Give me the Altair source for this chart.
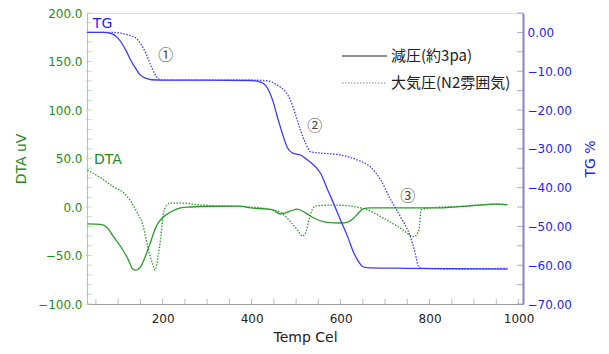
import altair as alt
import pandas as pd

# ---------------- data ----------------
tg_vac_T = [31, 67, 85, 99, 117, 128, 139, 150, 162, 175, 200, 300, 400, 420, 431, 447, 458, 469, 481,
            492, 510, 526, 544, 555, 571, 584, 600, 616, 630, 641, 650, 665, 750, 850, 975]
tg_vac_v = [0.0, 0.0, -0.3, -1.4, -4.5, -7.1, -9.2, -11.0, -11.8, -12.2, -12.3, -12.3, -12.4, -12.8, -13.6,
            -17.4, -21.8, -26.0, -29.8, -31.1, -31.6, -32.9, -34.7, -36.3, -40.6, -44.0, -48.4, -52.7,
            -56.9, -59.2, -60.4, -60.7, -60.8, -60.9, -61.0]

tg_atm_T = [31, 83, 106, 124, 139, 150, 162, 173, 184, 191, 200, 300, 400, 436, 458, 476, 487, 499, 510,
            521, 533, 555, 600, 638, 667, 690, 712, 735, 757, 768, 775, 782, 850, 975]
tg_atm_v = [0.0, 0.0, -0.2, -0.7, -1.4, -2.8, -5.3, -8.4, -11.0, -12.0, -12.3, -12.3, -12.3, -12.5,
            -13.6, -15.3, -17.4, -21.3, -25.2, -28.5, -30.8, -31.1, -31.6, -32.9, -34.7, -38.0, -43.0,
            -47.6, -52.7, -57.0, -60.3, -60.8, -61.0, -60.8]

dta_vac_T = [31, 61, 76, 90, 106, 121, 133, 140, 150, 164, 173, 184, 195, 218, 240, 263, 285, 375, 398,
             431, 447, 465, 476, 488, 503, 521, 540, 566, 600, 616, 630, 641, 650, 667, 809, 885, 953, 975]
dta_vac_v = [-17.5, -18.0, -21.6, -30.9, -41.0, -52.6, -63.9, -65.0, -61.9, -47.4, -36.0, -21.6, -13.4,
             -5.2, -1.0, 0.0, 0.5, 1.0, -1.0, -2.0, -3.0, -7.2, -6.0, -4.1, -2.1, -6.0, -11.3, -15.5,
             -16.5, -15.5, -11.3, -6.0, -2.0, -1.0, -1.0, 1.0, 3.0, 2.5]

dta_atm_T = [31, 61, 90, 113, 128, 143, 155, 162, 168, 177, 183, 190, 196, 202, 210, 218, 247, 285, 382,
             436, 465, 487, 503, 514, 521, 529, 536, 544, 584, 622, 660, 697, 735, 765, 776, 781, 800,
             885, 953, 975]
dta_atm_v = [38.0, 30.0, 20.6, 14.4, 6.0, -6.0, -18.0, -31.0, -44.0, -58.0, -65.0, -50.0, -31.0, -6.2,
             2.0, 4.0, 4.0, 2.0, 0.3, -2.0, -5.6, -15.0, -23.7, -30.0, -27.0, -13.4, -3.0, 1.0, 2.0,
             1.0, -3.0, -11.6, -22.0, -30.6, -23.7, -3.0, -1.0, 1.0, 3.0, 2.0]

legend_labels = ["減圧(約3pa)", "大気圧(N2雰囲気)"]

# annotation texts placed in data coordinates
dta_note_text, dta_note_T, dta_note_v = ["DTA"], [77], [48.5]
tg_note_text, tg_note_T, tg_note_v = ["TG"], [65], [2.2]
step_text = ["①", "②", "③"]
step_T = [207, 542, 751]
step_v = [-5.8, -24.1, -42.2]

x_labels = [200, 400, 600, 800, 1000]
dta_labels = [-100, -50, 0, 50, 100, 150, 200]
tg_labels = [-70, -60, -50, -40, -30, -20, -10, 0]
x_minor = list(range(50, 1001, 50))
dta_minor = list(range(-100, 201, 10))
tg_minor = list(range(-70, 6, 5))

# ---------------- styling ----------------
W, H = 436, 291
GREEN = "#2b9a2b"
GREEN_TXT = "#1e8c1e"
GREEN_AX = "#9fd49f"
BLUE = "#3a3aff"
BLUE_TXT = "#1f1ff0"
BLUE_AX = "#8585cc"
GREY = "#a0a0a0"
FONT = "DejaVu Sans"
CJK = "Noto Sans CJK JP"

xscale = alt.Scale(domain=[30, 1010], nice=False, zero=False)
xaxis = alt.Axis(values=x_labels, format="d", ticks=False, grid=False, labelPadding=9,
                 labelFont=FONT, labelFontSize=12, labelColor="#222222",
                 titleFont=FONT, titleFontSize=14, titleColor="#222222", titleFontWeight="normal",
                 titlePadding=6, domainColor=GREY)

dscale = alt.Scale(domain=[-100, 200], nice=False, zero=False)
daxis = alt.Axis(orient="left", values=dta_labels, format=".1f", ticks=False, grid=False,
                 labelPadding=5, labelFont=FONT, labelFontSize=12, labelColor=GREEN_TXT,
                 title="DTA uV", titleFont=FONT, titleFontSize=14, titleColor=GREEN_TXT,
                 titleFontWeight="normal", titlePadding=9, domainColor=GREEN_AX)

tscale = alt.Scale(domain=[-70, 5], nice=False, zero=False)
taxis = alt.Axis(orient="right", values=tg_labels, format=".2f", ticks=False, grid=False,
                 labelPadding=4, labelFont=FONT, labelFontSize=12, labelColor=BLUE_TXT,
                 title="TG %", titleFont=FONT, titleFontSize=14, titleColor=BLUE_TXT,
                 titleFontWeight="normal", titleAngle=270, titleBaseline="top", titlePadding=12,
                 domainColor=BLUE_AX, domainWidth=2)


def X():
    return alt.X("T:Q", scale=xscale, axis=xaxis, title="Temp Cel")


def YD():
    return alt.Y("v:Q", scale=dscale, axis=daxis)


def YT():
    return alt.Y("v:Q", scale=tscale, axis=taxis)


# ---------------- DTA group (left axis) ----------------
dta_vac = alt.Chart(pd.DataFrame({"T": dta_vac_T, "v": dta_vac_v})).mark_line(
    color=GREEN, strokeWidth=1.3, interpolate="monotone").encode(x=X(), y=YD())
dta_atm = alt.Chart(pd.DataFrame({"T": dta_atm_T, "v": dta_atm_v})).mark_line(
    color=GREEN, strokeWidth=1.3, strokeDash=[1.5, 1.5], interpolate="monotone").encode(x=X(), y=YD())
dta_note = alt.Chart(pd.DataFrame({"T": dta_note_T, "v": dta_note_v, "s": dta_note_text})).mark_text(
    font=FONT, fontSize=14, color=GREEN_TXT, align="center", baseline="middle").encode(
    x=X(), y=YD(), text="s:N")
dta_ticks = alt.Chart(pd.DataFrame({"v": dta_minor})).mark_tick(
    color=GREEN_AX, thickness=1, size=6).encode(y=YD(), x=alt.value(2))
x_ticks = alt.Chart(pd.DataFrame({"T": x_minor})).mark_tick(
    color=GREY, thickness=1, size=6).encode(x=X(), y=alt.value(H - 2))

dta_group = alt.layer(dta_vac, dta_atm, dta_note, dta_ticks, x_ticks)

# ---------------- TG group (right axis) ----------------
tg_vac = alt.Chart(pd.DataFrame({"T": tg_vac_T, "v": tg_vac_v})).mark_line(
    color=BLUE, strokeWidth=1.3, interpolate="monotone").encode(x=X(), y=YT())
tg_atm = alt.Chart(pd.DataFrame({"T": tg_atm_T, "v": tg_atm_v})).mark_line(
    color=BLUE, strokeWidth=1.3, strokeDash=[1.5, 1.5], interpolate="monotone").encode(x=X(), y=YT())
tg_note = alt.Chart(pd.DataFrame({"T": tg_note_T, "v": tg_note_v, "s": tg_note_text})).mark_text(
    font=FONT, fontSize=14, color=BLUE_TXT, align="center", baseline="middle").encode(
    x=X(), y=YT(), text="s:N")
steps = alt.Chart(pd.DataFrame({"T": step_T, "v": step_v, "s": step_text})).mark_text(
    font=CJK, fontSize=15, color="#444444", align="center", baseline="middle").encode(
    x=X(), y=YT(), text="s:N")
tg_ticks = alt.Chart(pd.DataFrame({"v": tg_minor})).mark_tick(
    color=BLUE_AX, thickness=1, size=6).encode(y=YT(), x=alt.value(W - 3))

# legend (drawn by hand, black like the reference)
leg_solid = alt.Chart(pd.DataFrame({"s": [legend_labels[0]]})).mark_rule(
    color="#222222", strokeWidth=1.2).encode(x=alt.value(255), x2=alt.value(300), y=alt.value(43))
leg_dot = alt.Chart(pd.DataFrame({"s": [legend_labels[1]]})).mark_rule(
    color="#888888", strokeWidth=1.2, strokeDash=[1.5, 1.5]).encode(
    x=alt.value(255), x2=alt.value(300), y=alt.value(70))
leg_text1 = alt.Chart(pd.DataFrame({"s": [legend_labels[0]]})).mark_text(
    font=CJK, fontSize=15, color="#222222", align="left", baseline="middle").encode(
    x=alt.value(304), y=alt.value(43), text="s:N")
leg_text2 = alt.Chart(pd.DataFrame({"s": [legend_labels[1]]})).mark_text(
    font=CJK, fontSize=15, color="#222222", align="left", baseline="middle").encode(
    x=alt.value(304), y=alt.value(70), text="s:N")

tg_group = alt.layer(tg_vac, tg_atm, tg_note, steps, tg_ticks, leg_solid, leg_dot, leg_text1, leg_text2)

chart = alt.layer(dta_group, tg_group).resolve_scale(y="independent").properties(
    width=W, height=H,
    autosize=alt.AutoSizeParams(type="none"),
    padding={"left": 87, "top": 13, "right": 86, "bottom": 50},
).configure_view(stroke=GREY, strokeWidth=1).configure(background="white")

chart.save("out.html", embed_options={"renderer": "svg", "actions": False})
